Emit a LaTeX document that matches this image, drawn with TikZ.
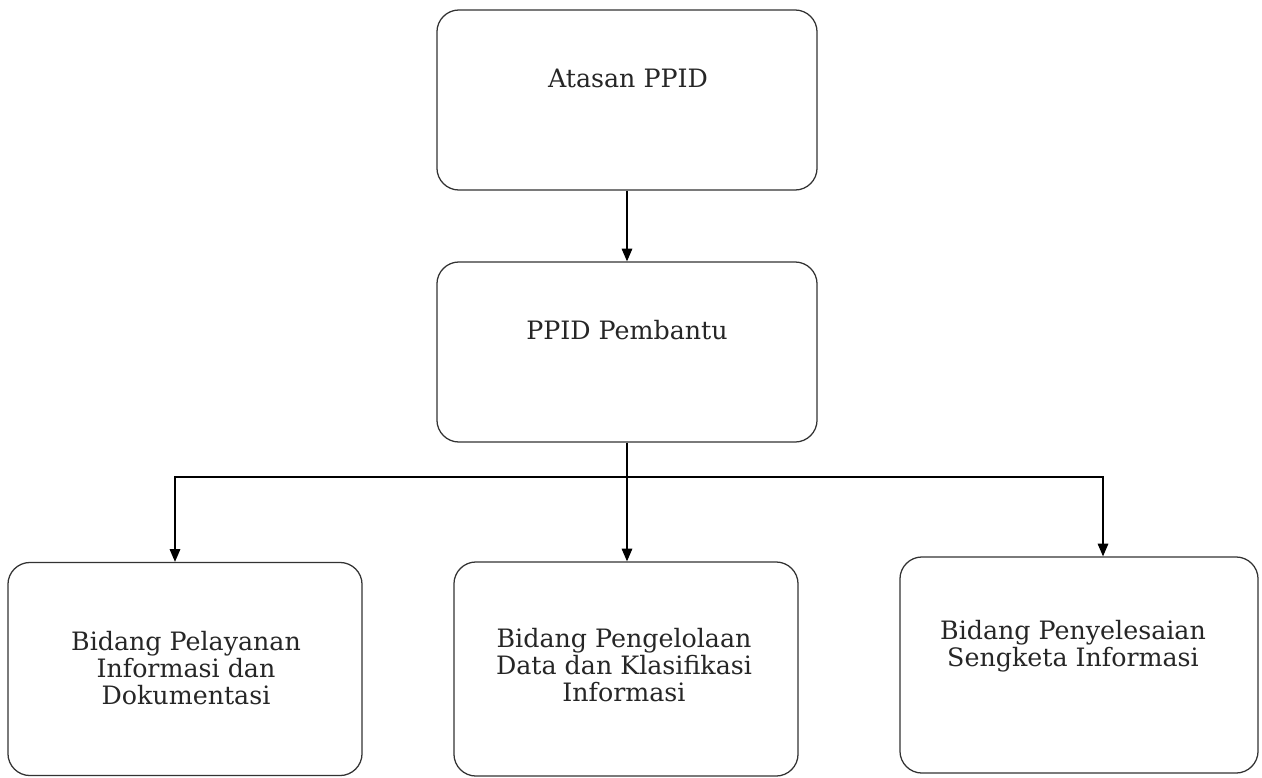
\documentclass[tikz,border=0pt]{standalone}
\usepackage{fontspec}
\setmainfont{DejaVu Serif}
\usetikzlibrary{arrows.meta}

\begin{document}
\begin{tikzpicture}[x=0.025cm,y=-0.025cm,>={Triangle[length=9pt,width=7.5pt]},line width=0.9pt]
\tikzstyle{box}=[rectangle,draw=black!80,rounded corners=0.55cm]
\tikzstyle{lbl}=[align=center,text=black!85,font=\fontsize{18}{19}\selectfont]
\useasboundingbox (0,0) rectangle (1262,777);
\node[box,minimum width=9.5cm,minimum height=4.5cm](A) at (627,100) {};
\node[box,minimum width=9.5cm,minimum height=4.5cm](P) at (627,352) {};
\node[box,minimum width=8.85cm,minimum height=5.325cm](L) at (185,669) {};
\node[box,minimum width=8.6cm,minimum height=5.35cm](C) at (626,669) {};
\node[box,minimum width=8.95cm,minimum height=5.4cm](R) at (1079,665) {};

\node[lbl](a) at (628,78) {Atasan PPID};
\node[lbl](p) at (627,330) {PPID Pembantu};
\node[lbl](l) at (186,668) {Bidang Pelayanan\\Informasi dan\\Dokumentasi};
\node[lbl](c) at (624,665) {Bidang Pengelolaan\\Data dan Klasifikasi\\Informasi};
\node[lbl](r) at (1073,646) {Bidang Penyelesaian\\Sengketa Informasi};

\coordinate (J) at (627,477);

\draw[->] (A) -- (P);
\draw (P) -- (J);
\draw[->] (J) -| ([xshift=-0.25cm]L.north);
\draw[->] (J) -- (J |- C.north);
\draw[->] (J) -| ([xshift=0.6cm]R.north);
\end{tikzpicture}
\end{document}
